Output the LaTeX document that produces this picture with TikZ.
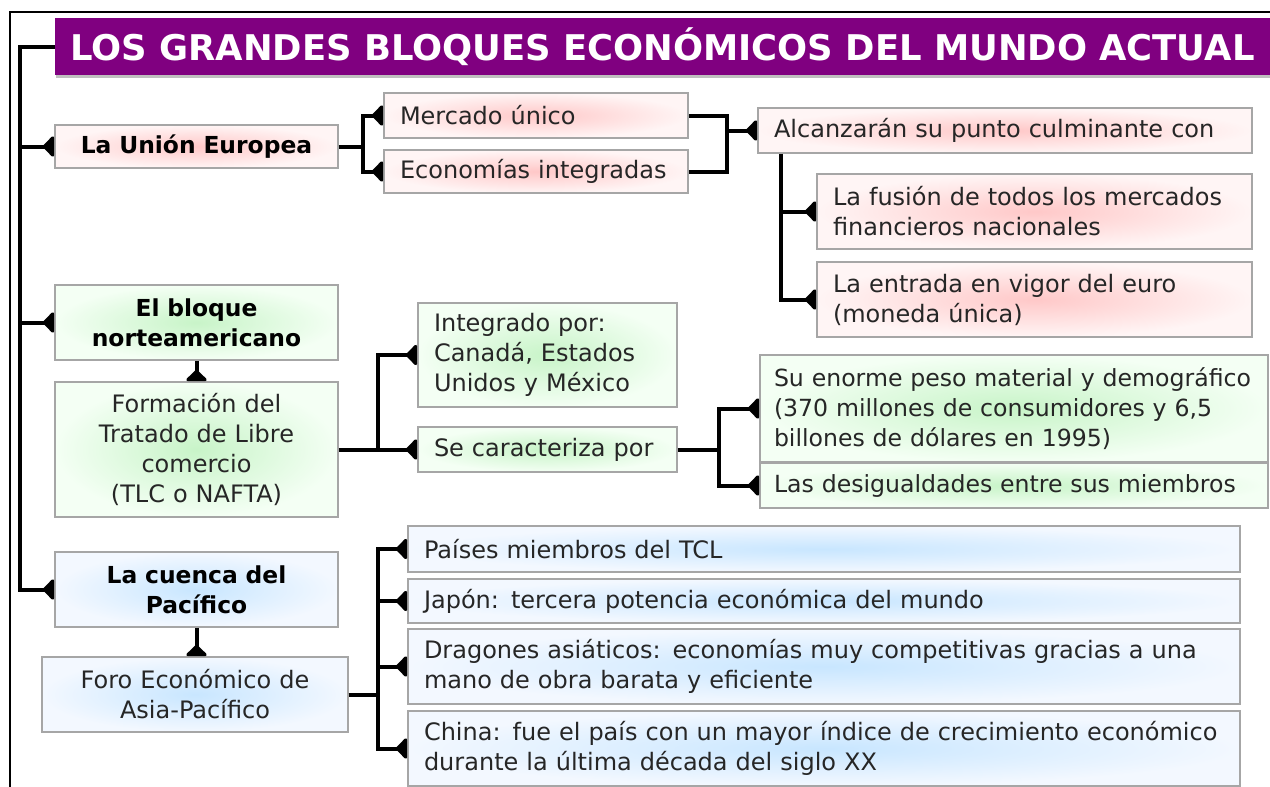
\documentclass[tikz,border=0pt]{standalone}
\usepackage{fontspec}
\setmainfont{DejaVu Sans}
\usetikzlibrary{arrows.meta,shadows}
\definecolor{titlepurple}{HTML}{800080}
\definecolor{ueinner}{HTML}{FFC8C8}
\definecolor{ueouter}{HTML}{FFF5F5}
\definecolor{nainner}{HTML}{C8F4C8}
\definecolor{naouter}{HTML}{F4FFF4}
\definecolor{apinner}{HTML}{C8E6FF}
\definecolor{apouter}{HTML}{F3F8FF}
\tikzset{
  box/.style={draw=gray!70, line width=0.8pt, inner xsep=8pt, inner ysep=0pt, align=left, text=black!85, font=\fontsize{12}{15}\selectfont},
  head/.style={font=\fontsize{11.7}{15}\selectfont\bfseries, align=center, text=black},
  uebox/.style={box, inner color=ueinner, outer color=ueouter},
  nabox/.style={box, inner color=nainner, outer color=naouter},
  apbox/.style={box, inner color=apinner, outer color=apouter},
  line/.style={line width=2pt},
  tip/.style={line, -{Triangle[reversed,round,width=12pt,length=6pt]}},
}
\begin{document}
\begin{tikzpicture}[x=0.5pt,y=-0.5pt]
\useasboundingbox (0,0) rectangle (1270,787);
\draw[line width=1pt] (10,800) -- (10,12) -- (1280,12);

\node[fill=titlepurple, text=white, minimum width=607.5pt, minimum height=28.5pt, inner sep=0pt, font=\fontsize{17.7}{20}\selectfont\bfseries, drop shadow={shadow xshift=0.5pt, shadow yshift=-1.5pt, fill=gray}] (title) at (662.5,46.5) {LOS GRANDES BLOQUES ECONÓMICOS DEL MUNDO ACTUAL};

\node[uebox, head, text width=125.5pt, minimum height=21.5pt] (ue) at (196.5,146.5) {La Unión Europea};
\node[uebox, text width=136pt, minimum height=22.5pt] (mu) at (536,115.5) {Mercado único};
\node[uebox, text width=136pt, minimum height=21.5pt] (ei) at (536,171.5) {Economías integradas};
\node[uebox, text width=231pt, minimum height=22.5pt] (alc) at (1005,130.5) {Alcanzarán su punto culminante con};
\node[uebox, text width=201.5pt, minimum height=37.5pt] (fus) at (1034.5,211.5) {La fusión de todos los mercados\\financieros nacionales};
\node[uebox, text width=201.5pt, minimum height=37.5pt] (eur) at (1034.5,299.5) {La entrada en vigor del euro\\(moneda única)};

\node[nabox, head, text width=125.5pt, minimum height=37.5pt] (bna) at (196.5,322.5) {El bloque\\norteamericano};
\node[nabox, align=center, text width=125.5pt, minimum height=67.5pt] (tlc) at (196.5,449.5) {Formación del\\Tratado de Libre\\comercio\\(TLC o NAFTA)};
\node[nabox, text width=113.5pt, minimum height=52pt] (int) at (547.5,355) {Integrado por:\\Canadá, Estados\\Unidos y México};
\node[nabox, text width=113.5pt, minimum height=22.5pt] (sec) at (547.5,449.5) {Se caracteriza por};
\node[nabox, inner xsep=7pt, text width=240pt, minimum height=53.5pt, font=\fontsize{11.8}{15}\selectfont] (sue) at (1014,408.5) {Su enorme peso material y demográfico\\(370 millones de consumidores y 6,5\\billones de dólares en 1995)};
\node[nabox, inner xsep=7pt, text width=240pt, minimum height=22.5pt, font=\fontsize{11.8}{15}\selectfont] (des) at (1014,485.5) {Las desigualdades entre sus miembros};

\node[apbox, head, text width=125.5pt, minimum height=37.5pt] (cue) at (196.5,589.5) {La cuenca del\\Pacífico};
\node[apbox, align=center, text width=137pt, minimum height=37.5pt] (foro) at (195,694.5) {Foro Económico de\\Asia-Pacífico};
\node[apbox, text width=400pt, minimum height=23pt] (pai) at (824,549) {Países miembros del TCL};
\node[apbox, text width=400pt, minimum height=22pt] (jap) at (824,601) {Japón: tercera potencia económica del mundo};
\node[apbox, text width=400pt, minimum height=37.5pt] (dra) at (824,666.5) {Dragones asiáticos: economías muy competitivas gracias a una\\mano de obra barata y eficiente};
\node[apbox, text width=400pt, minimum height=37.5pt] (chi) at (824,748.5) {China: fue el país con un mayor índice de crecimiento económico\\durante la última década del siglo XX};

\coordinate (sp) at (20,46.5);
\coordinate (j1) at (727,130.5);
\draw[tip] (title.west) -- (sp) |- (cue.west);
\draw[tip] (sp |- ue.west) -- (ue.west);
\draw[tip] (sp |- bna.west) -- (bna.west);

\draw[tip] (ue.east) -- ++(24,0) |- (mu.west);
\draw[tip] (ue.east) -- ++(24,0) |- (ei.west);
\draw[line] (mu.east) -| (j1);
\draw[line] (ei.east) -| (j1);
\draw[tip] (j1) -- (alc.west);
\draw[tip] (alc.south west) ++(24,0) |- (fus.west);
\draw[tip] (alc.south west) ++(24,0) |- (eur.west);

\draw[tip] (bna.south) -- (tlc.north);
\draw[tip] (tlc.east) -- ++(39,0) |- (int.west);
\draw[tip] (tlc.east) -- (sec.west);
\draw[tip] (sec.east) -- ++(41,0) |- (sue.west);
\draw[tip] (sec.east) -- ++(41,0) |- (des.west);

\draw[tip] (cue.south) -- (cue.south |- foro.north);
\draw[tip] (foro.east) -- ++(29,0) |- (pai.west);
\draw[tip] (foro.east) -- ++(29,0) |- (jap.west);
\draw[tip] (foro.east) -- ++(29,0) |- (dra.west);
\draw[tip] (foro.east) -- ++(29,0) |- (chi.west);
\end{tikzpicture}
\end{document}
